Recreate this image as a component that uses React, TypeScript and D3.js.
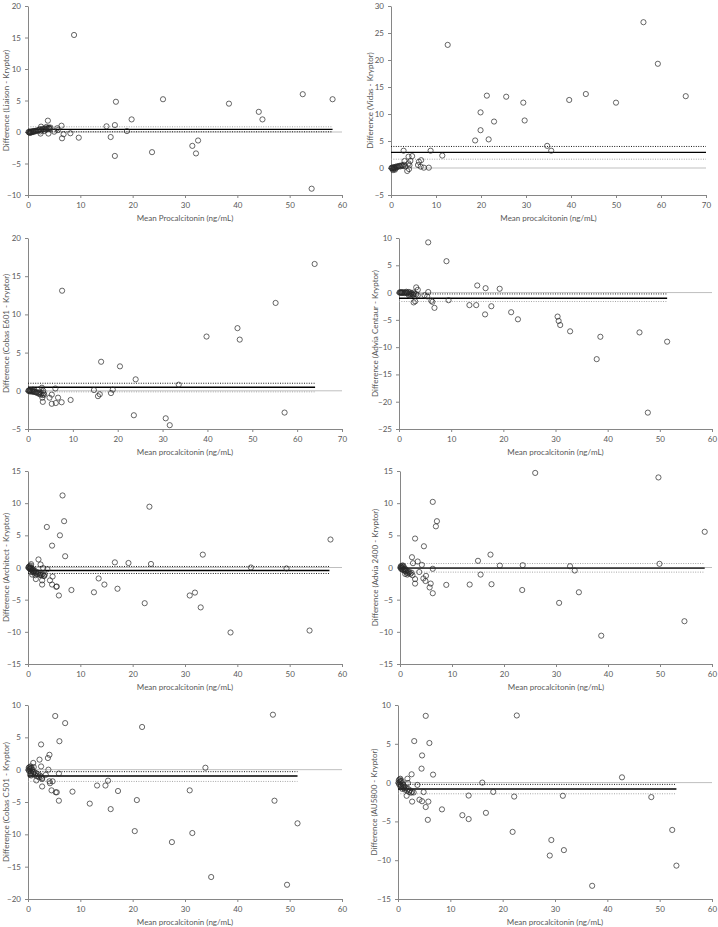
import React, { useEffect, useRef } from "react";
import { select, scaleLinear, axisBottom, axisLeft, range } from "d3";

// Bland-Altman points: [mean procalcitonin, difference]
const liaison = [
  [8.8, 15.4], [16.8, 4.8], [25.8, 5.2], [38.4, 4.5], [44.1, 3.2], [44.8, 2.0], [52.5, 6.0], [58.2, 5.2],
  [19.8, 2.0], [15.0, 0.9], [16.6, 1.1], [18.9, 0.15], [15.8, -0.8], [16.6, -3.8], [23.7, -3.2], [31.4, -2.2],
  [32.1, -3.4], [32.5, -1.35], [54.2, -9.0], [9.7, -0.9], [8.1, -0.2], [6.4, 1.0], [6.5, -1.0], [6.8, -0.35],
  [5.7, 0.3], [5.6, 0.6], [5.0, 0.05], [3.8, 1.8], [3.9, -0.25], [4.0, 0.7], [3.5, 0.8], [2.5, 0.85], [2.4, -0.25],
  [0.1, 0], [0.2, -0.05], [0.3, 0.02], [0.4, -0.1], [0.5, 0], [0.6, 0.05], [0.7, -0.05], [0.8, 0.05], [0.9, 0.1],
  [1.0, 0], [1.1, 0.1], [1.2, 0.15], [1.4, 0.1], [1.5, 0.2], [1.7, 0.2], [1.9, 0.25], [2.0, 0.3], [2.2, 0.35],
  [2.3, 0.45], [2.6, 0.3], [2.8, 0.5], [3.0, 0.45], [3.2, 0.55], [3.4, 0.4], [3.6, 0.6], [3.8, 0.5], [4.0, 0.6],
  [4.2, 0.5], [4.3, 0.7], [3.1, 0.15], [2.4, 0.1], [0.35, -0.15],
];

const vidas = [
  [12.6, 22.8], [56.1, 27.0], [59.3, 19.3], [65.5, 13.3], [43.3, 13.7], [39.6, 12.6], [50.0, 12.1], [21.3, 13.4],
  [25.6, 13.2], [29.4, 12.1], [29.7, 8.8], [22.9, 8.6], [19.9, 10.3], [19.9, 7.0], [18.7, 5.1], [21.7, 5.3],
  [34.7, 4.1], [35.6, 3.2], [11.4, 2.3], [8.8, 3.2], [2.8, 3.2], [4.7, 2.2], [3.9, 2.1], [4.3, 1.3], [6.7, 1.45],
  [6.2, 1.15], [6.0, 0.55], [7.3, 0.06], [8.4, 0.06], [6.6, 0.25], [3.0, 1.3], [3.6, -0.55], [4.0, -0.2],
  [4.1, 0.5], [3.9, 0.85],
  [0.1, 0], [0.2, 0.05], [0.3, -0.1], [0.4, 0.1], [0.5, -0.2], [0.6, 0.1], [0.7, 0], [0.8, 0.15], [0.9, -0.1],
  [1.0, 0.2], [1.2, 0.1], [1.3, 0.3], [1.5, 0.2], [1.7, 0.35], [1.9, 0.4], [2.1, 0.3], [2.3, 0.45], [2.5, 0.5],
  [2.7, 0.35], [2.9, 0.6], [3.2, 0.3], [0.45, -0.4], [0.9, -0.3],
];

const cobasE601 = [
  [63.9, 16.6], [7.6, 13.1], [55.2, 11.5], [46.7, 8.2], [47.2, 6.7], [39.8, 7.1], [16.3, 3.8], [20.5, 3.2],
  [24.0, 1.5], [33.6, 0.8], [14.7, 0.1], [18.9, 0.15], [18.5, -0.3], [16.0, -0.45], [15.6, -0.7], [23.6, -3.2],
  [30.7, -3.6], [31.6, -4.5], [57.2, -2.85], [9.5, -1.2], [6.7, -0.9], [7.5, -1.5], [6.2, -1.6], [5.3, -1.7],
  [6.1, 0.3], [5.3, -0.5], [4.8, -0.9], [3.3, -1.45], [3.1, 0.4], [3.2, -0.9], [3.4, 0.0], [3.6, -0.5],
  [0.1, 0], [0.2, 0.05], [0.3, -0.05], [0.4, 0.1], [0.5, 0], [0.6, -0.1], [0.8, 0.05], [0.9, -0.05], [1.0, -0.1],
  [1.2, 0], [1.3, -0.15], [1.5, -0.1], [1.7, -0.2], [1.9, -0.15], [2.1, -0.3], [2.3, -0.25], [2.5, -0.4],
  [2.6, -0.2], [2.8, -0.5], [3.0, -0.35], [3.3, -0.55], [3.5, -0.3], [2.4, 0.15], [1.1, 0.15],
];

const adviaCentaur = [
  [5.6, 9.2], [9.1, 5.75], [15.0, 1.3], [16.6, 0.8], [19.3, 0.7], [9.5, -1.4], [6.8, -2.8], [6.2, -1.5],
  [6.4, -1.7], [13.5, -2.3], [14.8, -2.3], [17.7, -2.5], [16.5, -4.0], [21.5, -3.6], [22.8, -4.9], [30.4, -4.4],
  [30.6, -5.2], [30.9, -5.95], [32.8, -7.1], [38.6, -8.1], [37.9, -12.2], [46.1, -7.3], [51.4, -9.0],
  [47.7, -22.0], [5.6, 0.1], [5.4, -0.7], [4.9, -0.5], [3.3, 0.95], [3.6, 0.5], [3.6, -0.5], [2.8, -1.8],
  [3.1, -1.6], [3.3, -0.3], [2.7, -0.4],
  [0.1, 0], [0.2, 0.05], [0.3, -0.05], [0.4, 0.05], [0.5, 0], [0.6, -0.05], [0.7, 0.05], [0.8, 0], [1.0, -0.1],
  [1.1, 0.05], [1.3, -0.05], [1.5, 0], [1.6, -0.15], [1.8, 0.1], [2.0, -0.2], [2.1, 0.05], [2.3, -0.3],
  [2.4, -0.1], [2.6, -0.35], [2.8, 0], [3.0, -0.25], [1.9, -0.5], [2.2, -0.6], [1.4, 0.15],
];

const architect = [
  [6.6, 11.2], [23.2, 9.45], [6.9, 7.2], [3.6, 6.3], [6.1, 5.0], [4.6, 3.4], [7.1, 1.75], [57.8, 4.35],
  [33.4, 2.0], [16.6, 0.8], [19.2, 0.7], [23.5, 0.55], [42.6, 0.0], [49.4, -0.15], [13.5, -1.7], [14.6, -2.65],
  [17.1, -3.3], [12.6, -3.85], [8.3, -3.5], [5.9, -4.35], [5.5, -2.95], [5.4, -3.0], [22.3, -5.55], [30.9, -4.35],
  [31.9, -3.9], [33.0, -6.2], [38.7, -10.1], [53.8, -9.8], [2.0, 1.25], [2.4, 0.47], [2.9, -0.1], [3.7, -0.26],
  [4.7, -1.4], [4.6, -2.65], [4.2, -2.0], [2.7, -2.0], [2.7, -2.65], [2.4, -1.15], [1.5, -1.8], [3.1, -1.3],
  [1.0, -0.73], [0.6, 0.52],
  [0.1, 0], [0.15, 0.1], [0.2, -0.1], [0.3, 0.2], [0.35, -0.2], [0.4, 0], [0.5, -0.3], [0.5, 0.3], [0.6, -0.1],
  [0.7, -0.4], [0.8, -0.2], [0.9, -0.5], [1.0, -0.3], [1.1, -0.6], [1.2, -0.8], [1.3, -0.5], [1.5, -0.9],
  [1.6, -0.7], [1.8, -1.0], [2.0, -0.8], [2.2, -1.1], [2.4, -0.9], [2.6, -1.2], [2.8, -1.0], [3.0, -1.3],
  [3.2, -1.1], [1.4, -1.2], [0.8, -1.1], [0.6, -0.7],
];

const advia2400 = [
  [26.0, 14.7], [49.7, 14.0], [6.3, 10.2], [7.1, 7.2], [6.9, 6.4], [2.9, 4.5], [4.6, 3.3], [58.6, 5.55],
  [17.4, 2.0], [15.0, 1.04], [19.2, 0.3], [23.6, 0.36], [32.7, 0.2], [33.6, -0.47], [49.9, 0.57], [15.5, -1.1],
  [17.6, -2.6], [13.4, -2.65], [8.9, -2.7], [23.5, -3.5], [34.4, -3.85], [30.6, -5.5], [38.7, -10.6],
  [54.7, -8.35], [6.3, -0.2], [6.3, -4.0], [5.7, -3.1], [5.9, -2.5], [5.0, -1.3], [4.5, -1.7], [4.9, -2.1],
  [2.9, -2.5], [2.9, -1.8], [3.7, -0.7], [3.4, 0.93], [4.2, 0.41], [2.5, 0.67], [2.3, 1.6],
  [0.1, 0], [0.15, 0.2], [0.2, -0.2], [0.25, 0.1], [0.3, -0.1], [0.4, 0.3], [0.4, -0.3], [0.5, 0], [0.6, -0.4],
  [0.7, 0.1], [0.8, -0.3], [0.9, -0.5], [1.0, -0.2], [1.1, -0.6], [1.2, -0.4], [1.3, -0.8], [1.5, -0.6],
  [1.6, -0.9], [1.8, -0.7], [2.0, -1.0], [2.2, -0.8], [2.4, -1.2], [0.6, 0.3], [1.0, -1.0], [1.4, -1.1],
];

const cobasC501 = [
  [5.2, 8.3], [7.1, 7.2], [6.0, 4.4], [2.5, 3.9], [4.1, 2.3], [3.8, 1.8], [2.2, 1.55], [2.5, 0.5], [3.9, 0.0],
  [5.9, -0.6], [21.8, 6.6], [46.8, 8.5], [33.9, 0.3], [47.1, -4.8], [51.5, -8.3], [30.9, -3.2], [20.8, -4.7],
  [20.4, -9.5], [31.4, -9.8], [27.5, -11.2], [35.0, -16.6], [49.5, -17.8], [15.3, -1.7], [13.2, -2.45],
  [14.8, -2.45], [17.2, -3.3], [15.8, -6.1], [11.8, -5.25], [8.5, -3.4], [5.9, -4.8], [5.3, -3.5], [5.5, -3.5],
  [4.5, -3.2], [4.7, -1.8], [4.2, -2.1], [4.1, -1.8], [2.7, -2.6], [3.4, -0.8], [2.7, -1.45], [1.6, -1.66],
  [1.0, 1.04],
  [0.1, 0], [0.15, 0.3], [0.2, -0.2], [0.3, 0.4], [0.35, 0.1], [0.4, -0.3], [0.5, 0.5], [0.55, 0.2], [0.6, -0.5],
  [0.7, 0.3], [0.8, 0], [0.9, -0.3], [1.0, -0.6], [1.1, 0.4], [1.2, -0.4], [1.3, -0.8], [1.5, -0.5], [1.7, -1.0],
  [1.9, -0.7], [2.1, -1.2], [2.3, -0.9], [2.5, -1.1], [2.7, -1.3], [0.6, -0.9], [0.4, -0.8],
];

const au5800 = [
  [5.3, 8.6], [22.7, 8.65], [3.1, 5.35], [6.0, 5.1], [4.6, 3.5], [4.5, 1.8], [2.6, 1.07], [6.7, 1.03],
  [1.8, 0.5], [1.9, -0.05], [3.7, -0.3], [16.1, 0.0], [42.8, 0.68], [18.2, -1.2], [13.5, -1.67], [22.2, -1.8],
  [31.5, -1.7], [48.4, -1.87], [5.8, -2.45], [4.1, -2.2], [4.9, -1.22], [4.6, -2.4], [2.7, -2.45], [5.3, -3.15],
  [8.4, -3.45], [5.7, -4.8], [12.3, -4.2], [13.5, -4.7], [16.8, -3.9], [21.9, -6.35], [29.3, -7.4], [31.7, -8.7],
  [29.0, -9.4], [37.1, -13.3], [52.4, -6.1], [53.2, -10.7], [1.65, -1.7], [2.7, -1.2], [3.0, -1.27],
  [0.1, 0], [0.15, 0.3], [0.2, -0.2], [0.3, 0.4], [0.35, 0.1], [0.4, -0.3], [0.45, 0.5], [0.5, 0.2], [0.6, -0.4],
  [0.7, 0.2], [0.8, -0.1], [0.9, -0.5], [1.0, -0.3], [1.1, -0.7], [1.2, -0.5], [1.3, -0.9], [1.5, -0.7],
  [1.7, -1.0], [1.9, -0.8], [2.1, -1.2], [2.3, -1.0], [2.5, -1.3], [0.8, -0.8], [0.5, -0.6],
];

const series = [liaison, vidas, cobasE601, adviaCentaur, architect, advia2400, cobasC501, au5800];

const yTitles = [
  "Difference (Liaison - Kryptor)",
  "Difference (Vidas - Kryptor)",
  "Difference (Cobas E601 - Kryptor)",
  "Difference (Advia Centaur - Kryptor)",
  "Difference (Architect - Kryptor)",
  "Difference (Advia 2400 - Kryptor)",
  "Difference (Cobas C501 - Kryptor)",
  "Difference (AU5800 - Kryptor)",
];
const xTitles = [
  "Mean Procalcitonin (ng/mL)",
  "Mean procalcitonin (ng/mL)",
  "Mean procalcitonin (ng/mL)",
  "Mean procalcitonin (ng/mL)",
  "Mean procalcitonin (ng/mL)",
  "Mean procalcitonin (ng/mL)",
  "Mean procalcitonin (ng/mL)",
  "Mean procalcitonin (ng/mL)",
];

const xMax = [60, 70, 70, 60, 60, 60, 60, 60];
const yDomains = [[-10, 20], [-5, 30], [-5, 20], [-25, 10], [-15, 15], [-15, 15], [-20, 10], [-15, 10]];

// mean bias with its 95% CI, and where those lines stop on the x axis
const meanBias = [0.42, 2.9, 0.47, -1.04, -0.47, -0.1, -0.99, -0.83];
const upperCI = [0.83, 3.99, 0.99, -0.25, 0.16, 0.62, -0.31, -0.23];
const lowerCI = [0.03, 1.63, -0.14, -1.64, -0.93, -0.72, -1.82, -1.44];
const biasEnd = [58.2, 70, 64, 51.4, 57.6, 58.6, 51.5, 53.2];

// layout of each plot area in the page
const frames = [
  { left: 28, right: 342, top: 6, bottom: 195, titleX: 6 },
  { left: 391, right: 706, top: 6, bottom: 195, titleX: 370 },
  { left: 28, right: 342, top: 238, bottom: 429, titleX: 6 },
  { left: 399, right: 712, top: 238, bottom: 429, titleX: 375 },
  { left: 28, right: 342, top: 471, bottom: 664, titleX: 6 },
  { left: 400, right: 712, top: 471, bottom: 664, titleX: 375 },
  { left: 28, right: 342, top: 705, bottom: 899, titleX: 6 },
  { left: 398, right: 712, top: 705, bottom: 899, titleX: 374 },
];
const DARK = "#1a1a1a";
const LIGHT = "#a6a6a6";
const ciTones = [
  [LIGHT, DARK], [DARK, LIGHT], [DARK, LIGHT], [DARK, LIGHT],
  [DARK, DARK], [LIGHT, LIGHT], [DARK, LIGHT], [DARK, LIGHT],
];

const FONT = "Lato, 'Open Sans', sans-serif";
const AXIS = "#868686";
const TEXT = "#595959";

const App = () => {
  const ref = useRef(null);

  useEffect(() => {
    const svg = select(ref.current);
    svg.selectAll("*").remove();

    series.forEach((points, i) => {
      const f = frames[i];
      const x = scaleLinear().domain([0, xMax[i]]).range([f.left, f.right]);
      const y = scaleLinear().domain(yDomains[i]).range([f.bottom, f.top]);
      const g = svg.append("g");

      const xAxis = axisBottom(x)
        .tickValues(range(0, xMax[i] + 1, 10))
        .tickSize(3)
        .tickSizeOuter(0)
        .tickPadding(4);
      const yAxis = axisLeft(y)
        .tickValues(range(yDomains[i][0], yDomains[i][1] + 1, 5))
        .tickSize(3)
        .tickSizeOuter(0)
        .tickPadding(4);

      const gx = g.append("g").attr("transform", `translate(0,${f.bottom})`).call(xAxis);
      const gy = g.append("g").attr("transform", `translate(${f.left},0)`).call(yAxis);
      [gx, gy].forEach((a) => {
        a.select(".domain").attr("stroke", AXIS);
        a.selectAll(".tick line").attr("stroke", AXIS);
        a.selectAll(".tick text")
          .attr("fill", TEXT)
          .style("font-family", FONT)
          .style("font-size", "8px");
      });

      g.append("text")
        .attr("x", (f.left + f.right) / 2)
        .attr("y", f.bottom + 26)
        .attr("text-anchor", "middle")
        .attr("fill", TEXT)
        .style("font-family", FONT)
        .style("font-size", "8px")
        .text(xTitles[i]);

      const cy = (f.top + f.bottom) / 2;
      g.append("text")
        .attr("transform", `translate(${f.titleX},${cy}) rotate(-90)`)
        .attr("text-anchor", "middle")
        .attr("dy", "0.35em")
        .attr("fill", TEXT)
        .style("font-family", FONT)
        .style("font-size", "8px")
        .text(yTitles[i]);

      // zero line
      g.append("line")
        .attr("x1", x(0)).attr("x2", x(xMax[i]))
        .attr("y1", y(0)).attr("y2", y(0))
        .attr("stroke", "#bfbfbf").attr("stroke-width", 1);

      // confidence interval of the bias
      [upperCI[i], lowerCI[i]].forEach((v, k) => {
        g.append("line")
          .attr("x1", x(0)).attr("x2", x(biasEnd[i]))
          .attr("y1", y(v)).attr("y2", y(v))
          .attr("stroke", ciTones[i][k])
          .attr("stroke-width", 1)
          .attr("stroke-dasharray", "1,1.4");
      });

      // mean bias
      g.append("line")
        .attr("x1", x(0)).attr("x2", x(biasEnd[i]))
        .attr("y1", y(meanBias[i])).attr("y2", y(meanBias[i]))
        .attr("stroke", "#000").attr("stroke-width", 1.4);

      g.append("g")
        .selectAll("circle")
        .data(points)
        .enter()
        .append("circle")
        .attr("cx", (d) => x(d[0]))
        .attr("cy", (d) => y(d[1]))
        .attr("r", 2.6)
        .attr("fill", "none")
        .attr("stroke", "#262626")
        .attr("stroke-width", 0.7);
    });
  }, []);

  return (
    <div style={{ position: "absolute", left: 0, top: 0 }}>
      <svg ref={ref} width={718} height={927} style={{ display: "block", background: "#fff" }} />
    </div>
  );
};

export default App;
